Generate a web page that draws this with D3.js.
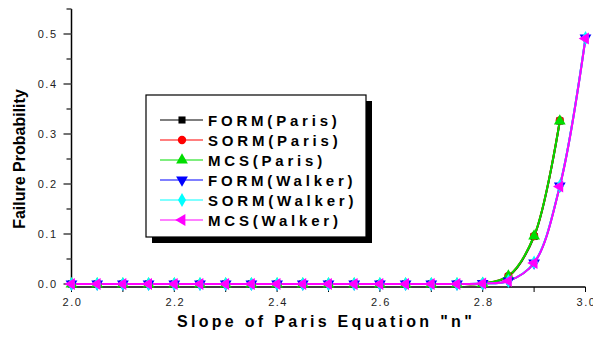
<!DOCTYPE html>
<html>
<head>
<meta charset="utf-8">
<script src="https://cdn.jsdelivr.net/npm/d3@7"></script>
<style>
  body { margin: 0; background: white; }
  svg { display: block; font-family: "Liberation Sans", Arial, sans-serif; }
</style>
</head>
<body>
<svg id="chart" width="593" height="337"></svg>
<script>
// slope n values
var nParis = [2.00, 2.05, 2.10, 2.15, 2.20, 2.25, 2.30, 2.35, 2.40, 2.45, 2.50, 2.55, 2.60, 2.65, 2.70, 2.75, 2.80, 2.85, 2.90, 2.95];
var nWalker = [2.00, 2.05, 2.10, 2.15, 2.20, 2.25, 2.30, 2.35, 2.40, 2.45, 2.50, 2.55, 2.60, 2.65, 2.70, 2.75, 2.80, 2.85, 2.90, 2.95, 3.00];

// failure probability
var formParis = [0, 0, 0, 0, 0, 0, 0, 0, 0, 0, 0, 0, 0, 0, 0, 0, 0.001, 0.015, 0.095, 0.326];
var sormParis = [0, 0, 0, 0, 0, 0, 0, 0, 0, 0, 0, 0, 0, 0, 0, 0, 0.001, 0.016, 0.096, 0.327];
var mcsParis = [0, 0, 0, 0, 0, 0, 0, 0, 0, 0, 0, 0, 0, 0, 0, 0, 0.001, 0.016, 0.096, 0.326];
var formWalker = [0, 0, 0, 0, 0, 0, 0, 0, 0, 0, 0, 0, 0, 0, 0, 0, 0.001, 0.006, 0.042, 0.196, 0.492];
var sormWalker = [0, 0, 0, 0, 0, 0, 0, 0, 0, 0, 0, 0, 0, 0, 0, 0, 0.001, 0.006, 0.043, 0.196, 0.492];
var mcsWalker = [0, 0, 0, 0, 0, 0, 0, 0, 0, 0, 0, 0, 0, 0, 0, 0, 0.001, 0.006, 0.042, 0.195, 0.491];

var seriesNames = ["FORM(Paris)", "SORM(Paris)", "MCS(Paris)", "FORM(Walker)", "SORM(Walker)", "MCS(Walker)"];
var seriesColors = ["#000000", "#ff0000", "#00dd00", "#0000ff", "#00ffff", "#ff00ff"];

var xTicks = [2.0, 2.2, 2.4, 2.6, 2.8, 3.0];
var yTicks = [0.0, 0.1, 0.2, 0.3, 0.4, 0.5];

var series = [
    { x: nParis, y: formParis, sym: d3.symbolSquare, rot: 0, size: 50 },
    { x: nParis, y: sormParis, sym: d3.symbolCircle, rot: 0, size: 55 },
    { x: nParis, y: mcsParis, sym: d3.symbolTriangle, rot: 0, size: 60 },
    { x: nWalker, y: formWalker, sym: d3.symbolTriangle, rot: 180, size: 60 },
    { x: nWalker, y: sormWalker, sym: d3.symbolDiamond, rot: 0, size: 55 },
    { x: nWalker, y: mcsWalker, sym: d3.symbolTriangle, rot: -90, size: 60 }
];

var svg = d3.select("#chart");

var x = d3.scaleLinear().domain([2.0, 3.0]).range([71.5, 585.5]);
var y = d3.scaleLinear().domain([-0.006, 0.55]).range([287, 9]);

// x axis
var xAxis = svg.append("g").attr("transform", "translate(0,287)");
xAxis.append("line")
    .attr("x1", x(2.0)).attr("x2", x(3.0))
    .style("stroke", "black").style("stroke-width", 1.5);
xAxis.selectAll(".minor")
    .data(x.ticks(10))
    .join("line")
    .attr("x1", d => x(d)).attr("x2", d => x(d))
    .attr("y1", 0).attr("y2", 5)
    .style("stroke", "black").style("stroke-width", 1);
xAxis.selectAll("text")
    .data(xTicks)
    .join("text")
    .attr("x", d => x(d) + 1)
    .attr("y", 19)
    .attr("text-anchor", "middle")
    .style("font-size", "11px")
    .style("letter-spacing", "1.5px")
    .style("fill", "#222")
    .text(d => d3.format(".1f")(d));

// y axis
var yAxis = svg.append("g").attr("transform", "translate(71.5,0)");
yAxis.append("line")
    .attr("y1", y(-0.006)).attr("y2", y(0.55))
    .style("stroke", "black").style("stroke-width", 1.5);
yAxis.selectAll(".minor")
    .data(d3.range(0, 12).map(i => i * 0.05))
    .join("line")
    .attr("y1", d => y(d)).attr("y2", d => y(d))
    .attr("x1", d => (Math.round(d * 100) % 10 == 0) ? -8 : -5).attr("x2", 0)
    .style("stroke", "#444").style("stroke-width", 1.5);
yAxis.selectAll("text")
    .data(yTicks)
    .join("text")
    .attr("x", -14)
    .attr("y", d => y(d) + 4)
    .attr("text-anchor", "end")
    .style("font-size", "11px")
    .style("letter-spacing", "1.5px")
    .style("fill", "#222")
    .text(d => d3.format(".1f")(d));

// axis titles
svg.append("text")
    .attr("x", 326)
    .attr("y", 327)
    .attr("text-anchor", "middle")
    .style("font-size", "16px")
    .style("font-weight", 700)
    .style("letter-spacing", "3.3px")
    .text("Slope of Paris Equation \"n\"");

svg.append("text")
    .attr("transform", "translate(25,159) rotate(-90)")
    .attr("text-anchor", "middle")
    .style("font-size", "16px")
    .style("font-weight", 700)
    .text("Failure Probability");

// curves
var line = d3.line().curve(d3.curveCatmullRom.alpha(0.5));

series.forEach(function (s, i) {
    var pts = s.x.map((v, j) => [x(v), y(s.y[j])]);
    svg.append("path")
        .attr("d", line(pts))
        .style("fill", "none")
        .style("stroke", seriesColors[i])
        .style("stroke-width", 2);
});

series.forEach(function (s, i) {
    var pts = s.x.map((v, j) => [x(v), y(s.y[j])]);
    svg.append("g")
        .selectAll("path")
        .data(pts)
        .join("path")
        .attr("transform", d => `translate(${d[0]},${d[1]}) rotate(${s.rot})`)
        .attr("d", d3.symbol().type(s.sym).size(s.size))
        .style("fill", seriesColors[i]);
});

// legend
var legend = svg.append("g");
legend.append("rect")
    .attr("x", 152).attr("y", 101)
    .attr("width", 220).attr("height", 142)
    .style("fill", "black");
legend.append("rect")
    .attr("x", 146).attr("y", 95)
    .attr("width", 220).attr("height", 142)
    .style("fill", "white")
    .style("stroke", "black")
    .style("stroke-width", 1.2);

var rows = legend.selectAll(".row")
    .data(seriesNames)
    .join("g")
    .attr("transform", (d, i) => `translate(0,${120 + i * 20})`);
rows.append("line")
    .attr("x1", 160).attr("x2", 203)
    .style("stroke", (d, i) => seriesColors[i])
    .style("stroke-width", 1.2);
rows.append("path")
    .attr("transform", (d, i) => `translate(182,0) rotate(${series[i].rot})`)
    .attr("d", (d, i) => d3.symbol().type(series[i].sym).size(series[i].size)())
    .style("fill", (d, i) => seriesColors[i]);
rows.append("text")
    .attr("x", 208)
    .attr("y", 5.5)
    .style("font-size", "15px")
    .style("font-weight", 700)
    .style("letter-spacing", "3.8px")
    .text(d => d);
</script>
</body>
</html>
